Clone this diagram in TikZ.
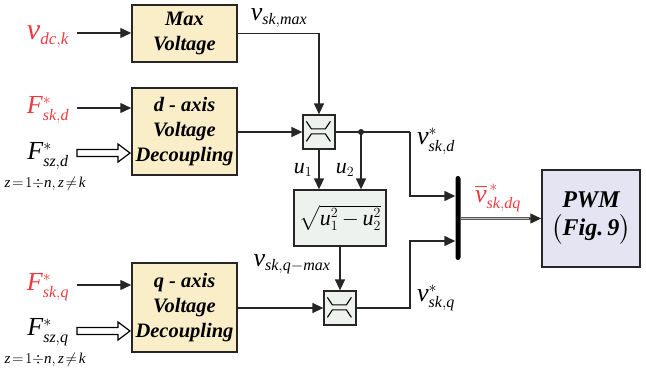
\RequirePackage{fix-cm}
\documentclass[tikz,border=0pt]{standalone}
\usepackage{amsmath}
\usepackage{fontspec}
\setmainfont{Liberation Serif}
\usetikzlibrary{arrows.meta,calc}
\DeclareMathSizes{30}{30}{17}{12}
\DeclareMathSizes{26}{26}{16}{11}
\DeclareMathSizes{24}{24}{15}{11}
\DeclareMathSizes{22}{22}{14}{10}
\newcommand{\mi}[1]{\mathit{#1}}
\definecolor{myred}{RGB}{236,58,62}
\definecolor{yfill}{RGB}{250,238,200}
\definecolor{gfill}{RGB}{238,242,238}
\definecolor{pfill}{RGB}{228,228,242}
\tikzset{
  ybox/.style={draw=black!85, line width=1.5pt, fill=yfill, align=center, inner sep=0pt,
     font=\fontsize{20.5}{25}\selectfont\bfseries\itshape},
  satbox/.style={draw=black!85, line width=1.3pt, fill=gfill, minimum width=32pt, minimum height=34pt, inner sep=0pt},
  arr/.style={line width=1.4pt, black!85, -{Triangle[length=11pt,width=10pt]}},
  ln/.style={line width=1.4pt, black!85},
  lbl/.style={font=\fontsize{26}{28}\selectfont, inner sep=0pt},
  inlbl/.style={font=\fontsize{26}{28}\selectfont, inner sep=0pt},
  zlbl/.style={font=\fontsize{15}{17}\selectfont, inner sep=0pt},
}
\newcommand{\satsym}[1]{%
  \draw[line width=1.1pt] ($(#1.north west)+(4,7)$) -- ($(#1.north west)+(9,14.5)$) -- ($(#1.north west)+(23,14.5)$) -- ($(#1.north west)+(28,7)$);
  \draw[line width=1.1pt] ($(#1.north west)+(4,27)$) -- ($(#1.north west)+(9,19.5)$) -- ($(#1.north west)+(23,19.5)$) -- ($(#1.north west)+(28,27)$);
}
\begin{document}
\begin{tikzpicture}[x=1pt,y=-1pt]
\useasboundingbox (0,0) rectangle (646,373);
% boxes
\node[ybox, minimum width=105pt, minimum height=57pt] (max) at (184.5,33.5) {Max\\Voltage};
\node[ybox, minimum width=105pt, minimum height=87pt] (dax) at (184.5,131.5) {d - axis\\Voltage\\Decoupling};
\node[ybox, minimum width=105pt, minimum height=89pt] (qax) at (184.5,307.5) {q - axis\\Voltage\\Decoupling};
\node[satbox] (sat1) at (319,132) {};
\node[satbox] (sat2) at (340,308) {};
\satsym{sat1}
\satsym{sat2}
\node[draw=black!85, line width=1.3pt, fill=gfill, minimum width=92pt, minimum height=56pt, inner sep=0pt,
   font=\fontsize{22}{24}\selectfont] (sq) at (340,218) {$\sqrt{\mi{u}_1^2\mkern-1mu-\mkern-1mu\mi{u}_2^2}$};
\node[fill=black, minimum width=5pt, minimum height=84pt, inner sep=0pt, rounded corners=2.5pt] (bar) at (458,218) {};
\node[draw=black!85, line width=1.5pt, fill=pfill, minimum width=98pt, minimum height=97pt, inner sep=0pt, align=center,
   font=\fontsize{24}{28}\selectfont\bfseries\itshape] (pwm) at (591,218.5) {PWM\\$\big($Fig.\,9$\big)$};
% input labels
\node[font=\fontsize{30}{32}\selectfont, inner sep=0pt, text=myred] (lvdc) at (48,37) {$\mi{v}_{\mi{dc,k}}$};
\node[inlbl, text=myred] (lfd) at (48,110) {$\mi{F}^{*}_{\mi{sk,d}}$};
\node[inlbl] (lfzd) at (48,156) {$\mi{F}^{*}_{\mi{sz,d}}$};
\node[zlbl] (lzd) at (45,184) {$\mi{z}\!=\!1{\div}\mi{n},\mi{z}\!\neq\!\mi{k}$};
\node[inlbl, text=myred] (lfq) at (48,287) {$\mi{F}^{*}_{\mi{sk,q}}$};
\node[inlbl] (lfzq) at (48,332) {$\mi{F}^{*}_{\mi{sz,q}}$};
\node[zlbl] (lzq) at (45,360) {$\mi{z}\!=\!1{\div}\mi{n},\mi{z}\!\neq\!\mi{k}$};
% input arrows
\coordinate (a1) at (77,33);
\coordinate (a2) at (77,108);
\coordinate (a3) at (77,285);
\draw[arr] (a1) -- (a1 -| max.west);
\draw[arr] (a2) -- (a2 -| dax.west);
\draw[arr] (a3) -- (a3 -| qax.west);
% hollow arrows
\coordinate (h1) at (77,153);
\coordinate (h2) at (77,331);
\foreach \h in {h1,h2}{
  \draw[line width=1.2pt, fill=white] ($(\h)+(0,-3.5)$) -- ($(\h)+(41,-3.5)$) -- ($(\h)+(41,-9)$) -- ($(\h)+(53,0)$)
     -- ($(\h)+(41,9)$) -- ($(\h)+(41,3.5)$) -- ($(\h)+(0,3.5)$) -- cycle;
}
% connections
\draw[arr] (max.east) -- (max.east -| sat1.north) -- (sat1.north);
\node[lbl] (lvmax) at (279,18) {$\mi{v}_{\mi{sk,max}}$};
\draw[arr] (dax.east |- sat1) -- (sat1.west);
\coordinate (j1) at (361,132);
\coordinate (t1) at (410,132);
\coordinate (t2) at (410,196);
\draw[ln] (sat1.east) -- (j1) -- (t1);
\draw[arr] (t1) -- (t2) -- (t2 -| bar.west);
\fill[black!85] (j1) circle (3pt);
\draw[arr] (sat1.south) -- (sat1.south |- sq.north);
\draw[arr] (j1) -- (j1 |- sq.north);
\node[font=\fontsize{22}{24}\selectfont, inner sep=0pt] (lu1) at (303,170) {$\mi{u}_1$};
\node[font=\fontsize{22}{24}\selectfont, inner sep=0pt] (lu2) at (345,170) {$\mi{u}_2$};
\node[lbl] (lvsd) at (436,141) {$\mi{v}^{*}_{\mi{sk,d}}$};
\draw[arr] (sq.south) -- (sat2.north);
\node[lbl] (lvqm) at (292,264) {$\mi{v}_{\mi{sk,q}-\mi{max}}$};
\draw[arr] (qax.east |- sat2) -- (sat2.west);
\coordinate (t3) at (410,308);
\coordinate (t4) at (410,241);
\draw[arr] (sat2.east) -- (t3) -- (t4) -- (t4 -| bar.west);
\node[lbl] (lvsq) at (436,298) {$\mi{v}^{*}_{\mi{sk,q}}$};
% output
\coordinate (oe) at ($(pwm.west)+(-11,0)$);
\draw[line width=1.2pt, draw=black!65, double=black!25, double distance=1.4pt] (bar.east |- pwm.west) -- (oe);
\draw[arr] ($(oe)+(-1,0)$) -- (pwm.west);
\node[lbl, text=myred] (lvdq) at (498,198) {$\overline{\mi{v}}^{\,*}_{\mi{sk,dq}}$};
\end{tikzpicture}
\end{document}
